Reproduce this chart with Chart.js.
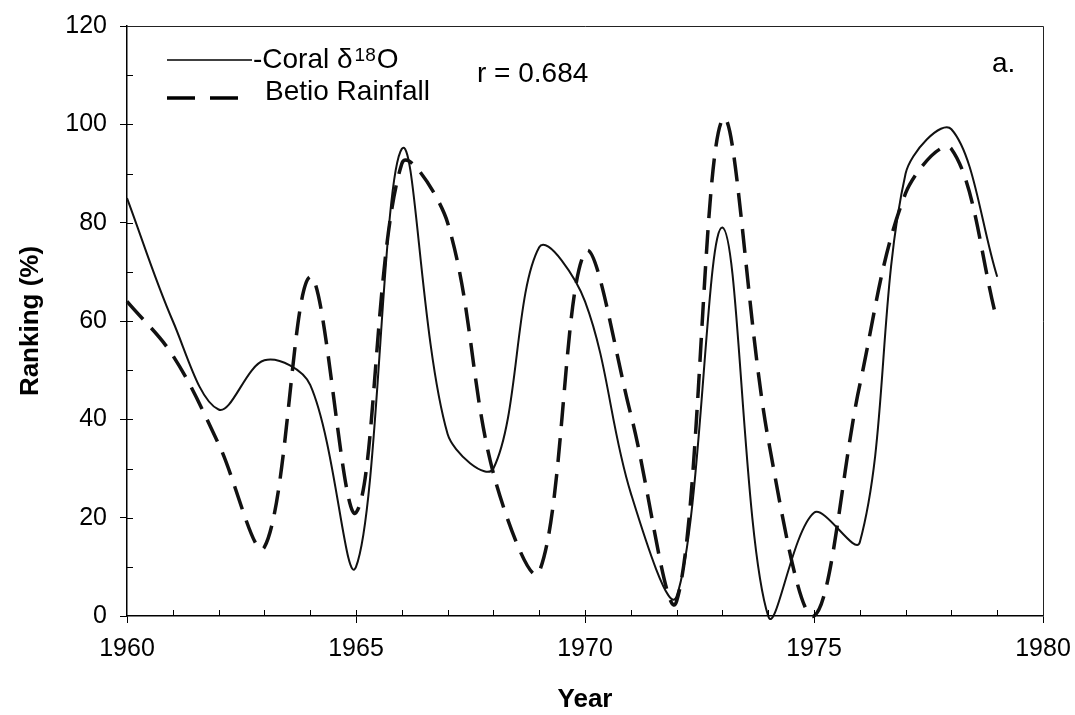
<!DOCTYPE html>
<html>
<head>
<meta charset="utf-8">
<script src="https://cdn.jsdelivr.net/npm/chart.js@4.4.1/dist/chart.umd.min.js"></script>
<style>
  html, body { margin: 0; padding: 0; background: #fff; }
  canvas { display: block; }
</style>
</head>
<body>
<canvas id="ranking_chart" width="1075" height="715"></canvas>
<script>
var ranking_chart = document.getElementById('ranking_chart');

var FONT = "'Liberation Sans', Arial, sans-serif";

// data (annual values)
const years = [1960, 1961, 1962, 1963, 1964, 1965, 1966, 1967, 1968, 1969,
  1970, 1971, 1972, 1973, 1974, 1975, 1976, 1977, 1978, 1979];
const coral = [85, 60, 42, 52, 47, 10, 95, 37, 30, 75,
  64, 25, 4, 79, 0, 21, 15, 90, 99, 69];
const rainfall = [64, 53, 35, 14, 69, 21, 92, 80, 29, 9,
  74, 41, 3, 101, 36, 0, 47, 86, 95, 60];

const xTicksMajor = [1960, 1965, 1970, 1975, 1980];
const yTicksMajor = [0, 20, 40, 60, 80, 100, 120];

function toPoints(vals) {
  return years.map(function (y, i) { return { x: y, y: vals[i] }; });
}

// frame, inner ticks and the hand-placed legend
const framePlugin = {
  id: 'frame',
  afterDraw: function (chart) {
    var c = chart.ctx;
    var a = chart.chartArea;
    var xs = chart.scales.x, ys = chart.scales.y;
    c.save();
    c.strokeStyle = '#222';
    c.lineWidth = 1;
    c.beginPath();
    c.moveTo(a.left, a.top + 0.5);
    c.lineTo(a.right + 0.5, a.top + 0.5);
    c.lineTo(a.right + 0.5, a.bottom);
    c.stroke();

    // inner tick marks
    c.strokeStyle = '#000';
    c.beginPath();
    for (var yr = 1961; yr < 1980; yr++) {
      var px = Math.round(xs.getPixelForValue(yr)) + 0.5;
      c.moveTo(px, a.bottom);
      c.lineTo(px, a.bottom - 6);
    }
    for (var v = 10; v < 120; v += 10) {
      var py = Math.round(ys.getPixelForValue(v)) + 0.5;
      c.moveTo(a.left, py);
      c.lineTo(a.left + 6, py);
    }
    c.stroke();

    // legend
    var lx = a.left + 40;
    c.lineWidth = 1.6;
    c.setLineDash([]);
    c.beginPath();
    c.moveTo(lx, a.top + 34);
    c.lineTo(lx + 85, a.top + 34);
    c.stroke();

    c.fillStyle = '#000';
    c.textBaseline = 'alphabetic';
    c.font = '28px ' + FONT;
    var tx = lx + 86;
    c.fillText('-Coral \u03b4', tx, a.top + 42);
    tx += c.measureText('-Coral \u03b4').width + 2;
    c.font = '19px ' + FONT;
    c.fillText('18', tx, a.top + 35);
    tx += c.measureText('18').width + 1;
    c.font = '28px ' + FONT;
    c.fillText('O', tx, a.top + 42);

    c.lineWidth = 3.5;
    c.setLineDash([28, 15]);
    c.beginPath();
    c.moveTo(lx, a.top + 72);
    c.lineTo(lx + 72, a.top + 72);
    c.stroke();
    c.setLineDash([]);

    c.font = '28px ' + FONT;
    c.fillText('Betio Rainfall', lx + 98, a.top + 74);
    c.fillText('r = 0.684', a.left + 350, a.top + 56);
    c.fillText('a.', a.left + 865, a.top + 46);
    c.restore();
  }
};

const data_lines = {
  datasets: [{
    label: 'Coral \u03b418O',
    data: toPoints(coral),
    borderColor: '#111',
    borderWidth: 2,
    pointRadius: 0,
    tension: 0.35,
    capBezierPoints: false,
    clip: 12,
    fill: false
  }, {
    label: 'Betio Rainfall',
    data: toPoints(rainfall),
    borderColor: '#111',
    borderWidth: 3.5,
    borderDash: [24, 12],
    pointRadius: 0,
    tension: 0.35,
    capBezierPoints: false,
    clip: 12,
    fill: false
  }]
};

var lineChart = new Chart(ranking_chart, {
  type: 'line',
  data: data_lines,
  plugins: [framePlugin],
  options: {
    responsive: false,
    animation: false,
    devicePixelRatio: 1,
    layout: { padding: { top: 26, right: 32, left: 0, bottom: 0 } },
    plugins: {
      legend: { display: false },
      tooltip: { enabled: false }
    },
    scales: {
      x: {
        type: 'linear',
        min: 1960,
        max: 1980,
        afterFit: function (s) {
          s.height = 99;
          s.paddingLeft = 0;
          s.paddingRight = 0;
        },
        afterBuildTicks: function (s) {
          s.ticks = years.concat([1980]).map(function (v) { return { value: v }; });
        },
        ticks: {
          autoSkip: false,
          maxRotation: 0,
          padding: 11,
          color: '#000',
          font: { family: FONT, size: 25 },
          callback: function (v) { return xTicksMajor.indexOf(v) >= 0 ? String(v) : ''; }
        },
        grid: {
          drawOnChartArea: false,
          drawTicks: true,
          tickLength: 7,
          tickColor: function (ctx) {
            return ctx.tick && xTicksMajor.indexOf(ctx.tick.value) >= 0 ? '#000' : 'rgba(0,0,0,0)';
          }
        },
        border: { color: '#000', width: 1.5 },
        title: {
          display: true,
          text: 'Year',
          color: '#000',
          font: { family: FONT, size: 26, weight: 'bold' },
          padding: { top: 0, bottom: 0 }
        }
      },
      y: {
        min: 0,
        max: 120,
        afterFit: function (s) {
          s.width = 127;
          s.paddingTop = 0;
          s.paddingBottom = 0;
        },
        ticks: {
          stepSize: 10,
          padding: 13,
          color: '#000',
          font: { family: FONT, size: 25 },
          callback: function (v) { return yTicksMajor.indexOf(v) >= 0 ? String(v) : ''; }
        },
        grid: {
          drawOnChartArea: false,
          drawTicks: true,
          tickLength: 7,
          tickColor: function (ctx) {
            return ctx.tick && yTicksMajor.indexOf(ctx.tick.value) >= 0 ? '#000' : 'rgba(0,0,0,0)';
          }
        },
        border: { color: '#000', width: 1.5 },
        title: {
          display: true,
          text: 'Ranking (%)',
          color: '#000',
          font: { family: FONT, size: 26, weight: 'bold' },
          padding: { top: 15, bottom: 0 }
        }
      }
    }
  }
});
</script>
</body>
</html>
